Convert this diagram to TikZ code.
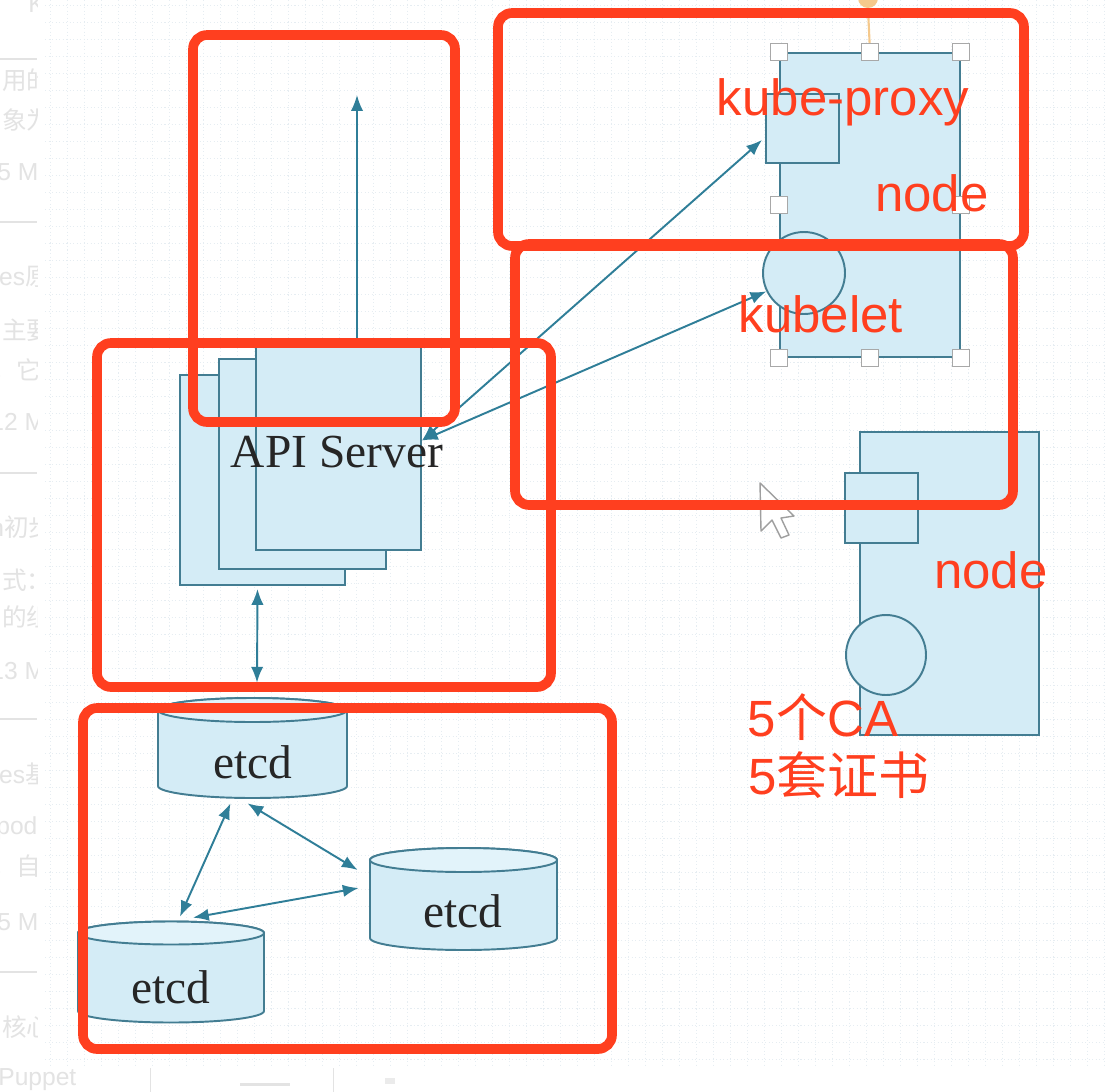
\documentclass[tikz,border=0pt]{standalone}
\usepackage{fontspec}
\newfontfamily\redfont{Liberation Sans}
\newfontfamily\diagserif{Liberation Serif}
\newfontfamily\cjk{Noto Sans CJK SC}
\usetikzlibrary{arrows.meta,calc,fit}
\definecolor{boxfill}{HTML}{D4ECF6}
\definecolor{topfill}{HTML}{E2F3FA}
\definecolor{boxline}{HTML}{437D92}
\definecolor{arrowc}{HTML}{2F7E98}
\definecolor{redc}{HTML}{FF3F1F}
\definecolor{faint}{HTML}{E3E3E3}
\definecolor{gridc}{HTML}{E6EDF2}
\definecolor{handleline}{HTML}{A8A8A8}
\definecolor{orangec}{HTML}{F5C98C}
\tikzset{
 box/.style={draw=boxline, fill=boxfill, line width=1.1pt, inner sep=0pt},
 conn/.style={arrowc, line width=1.1pt, {Latex[length=9pt,width=7pt]}-{Latex[length=9pt,width=7pt]}},
 oneway/.style={arrowc, line width=1.1pt, -{Latex[length=9pt,width=7pt]}},
 redbox/.style={draw=redc, line width=5.5pt, rounded corners=8pt},
 redlabel/.style={text=redc, font=\redfont\fontsize{29}{34}\selectfont, inner sep=0pt},
 serif/.style={font=\diagserif\fontsize{27}{32}\selectfont, inner sep=0pt, text=black!85},
 handle/.style={draw=handleline, fill=white, line width=0.9pt, minimum size=9.5pt, inner sep=0pt},
 fainttext/.style={text=faint, font=\redfont\fontsize{14}{17}\selectfont, anchor=west, inner sep=0pt},
 gridline/.style={gridc, line width=0.5pt, dash pattern=on 0.6pt off 1.4pt},
 cursorstyle/.style={draw=gray!75, fill=white, line width=0.8pt, line join=round},
}
% L R T B r : cylinder with top ellipse centre y=T, bottom arc centre y=B
\newcommand{\drawcyl}[5]{%
 \pgfmathsetmacro\cylC{(#1+#2)/2}\pgfmathsetmacro\cylA{(#2-#1)/2}%
 \pgfmathsetmacro\cylK{0.5523*\cylA}\pgfmathsetmacro\cylR{0.5523*#5}%
 \filldraw[fill=boxfill, draw=boxline, line width=1.1pt]
  ({#1},{#3}) -- ({#1},{#4})
  .. controls ({#1},{#4+\cylR}) and ({\cylC-\cylK},{#4+#5}) .. ({\cylC},{#4+#5})
  .. controls ({\cylC+\cylK},{#4+#5}) and ({#2},{#4+\cylR}) .. ({#2},{#4})
  -- ({#2},{#3})
  .. controls ({#2},{#3-\cylR}) and ({\cylC+\cylK},{#3-#5}) .. ({\cylC},{#3-#5})
  .. controls ({\cylC-\cylK},{#3-#5}) and ({#1},{#3-\cylR}) .. ({#1},{#3}) -- cycle;
 \filldraw[fill=topfill, draw=boxline, line width=1.1pt]
  ({#1},{#3})
  .. controls ({#1},{#3-\cylR}) and ({\cylC-\cylK},{#3-#5}) .. ({\cylC},{#3-#5})
  .. controls ({\cylC+\cylK},{#3-#5}) and ({#2},{#3-\cylR}) .. ({#2},{#3})
  .. controls ({#2},{#3+\cylR}) and ({\cylC+\cylK},{#3+#5}) .. ({\cylC},{#3+#5})
  .. controls ({\cylC-\cylK},{#3+#5}) and ({#1},{#3+\cylR}) .. ({#1},{#3}) -- cycle;
}
\begin{document}
\begin{tikzpicture}[x=0.02cm,y=-0.02cm]
\useasboundingbox (0,0) rectangle (1106,1092);
\clip (0,0) rectangle (1106,1092);
\fill[white] (0,0) rectangle (1106,1092);
% faint grid of the editor canvas
\foreach \g in {50,67,...,1106} \draw[gridline] (\g,0) -- (\g,1066);
\foreach \g in {5,22,...,1066} \draw[gridline] (45,\g) -- (1106,\g);
\draw[faint, line width=0.5pt] (150,1068) -- (150,1092);
\draw[faint, line width=0.5pt] (333,1068) -- (333,1092);
\fill[faint] (240,1083) rectangle (290,1086);
\fill[faint!70] (385,1078) rectangle (395,1084);
% faint side panel text (cut by the canvas)
\begin{scope}
\clip (0,0) rectangle (37,1066);
\node[fainttext] (f1) at (28,4) {K};
\node[fainttext] (f2) at (2,80) {\cjk 用的};
\node[fainttext] (f3) at (2,120) {\cjk 象为};
\node[fainttext] (f4) at (-3,172) {5 MB};
\node[fainttext] (f5) at (-8,277) {tes\cjk 原};
\node[fainttext] (f6) at (2,330) {\cjk 主要};
\node[fainttext] (f7) at (-8,370) {\cjk ，它};
\node[fainttext] (f8) at (-10,422) {12 MB};
\node[fainttext] (f9) at (-10,527) {n\cjk 初步};
\node[fainttext] (f10) at (2,580) {\cjk 式：};
\node[fainttext] (f11) at (2,617) {\cjk 的组};
\node[fainttext] (f12) at (-10,671) {13 MB};
\node[fainttext] (f13) at (-8,774) {tes\cjk 基};
\node[fainttext] (f14) at (-4,828) {pod\cjk ：};
\node[fainttext] (f15) at (-8,866) {\cjk ，自};
\node[fainttext] (f16) at (-3,922) {5 MB};
\node[fainttext] (f17) at (2,1027) {\cjk 核心};
\draw[faint, line width=0.6pt] (0,59) -- (37,59);
\draw[faint, line width=0.6pt] (0,222) -- (37,222);
\draw[faint, line width=0.6pt] (0,473) -- (37,473);
\draw[faint, line width=0.6pt] (0,719) -- (37,719);
\draw[faint, line width=0.6pt] (0,972) -- (37,972);
\end{scope}
\node[fainttext] (f18) at (-2,1080) {Puppet};

% API server stack
\node[box, fit={(180,375) (345,585)}] (api3) {};
\node[box, fit={(219,359) (386,569)}] (api2) {};
\node[box, fit={(256,343) (421,550)}] (api1) {};
\node[serif] (apitext) at (337,452) {API Server};
\coordinate (uptip) at (357,95);
\draw[oneway] ($(api1.north)+(18.5,0)$) -- (uptip);

% node 1 (selected)
\node[box, fit={(780,53) (960,357)}] (node1) {};
\node[box, fit={(766,94) (839,163)}] (kproxy) {};
\node[box, circle, minimum size=1.64cm] (kubelet) at (804,273) {};
\node[circle, fill=orangec, minimum size=0.4cm, inner sep=0pt] (rot) at (868,-2) {};
\draw[orangec, line width=1.2pt] (node1.north) -- (rot.south);
\node[handle] (h1) at (node1.north west) {};
\node[handle] (h2) at (node1.north) {};
\node[handle] (h3) at (node1.north east) {};
\node[handle] (h4) at (node1.west) {};
\node[handle] (h5) at (node1.east) {};
\node[handle] (h6) at (node1.south west) {};
\node[handle] (h7) at (node1.south) {};
\node[handle] (h8) at (node1.south east) {};

% node 2
\node[box, fit={(860,432) (1039,735)}] (node2) {};
\node[box, fit={(845,473) (918,543)}] (kproxy2) {};
\node[box, circle, minimum size=1.6cm] (kubelet2) at (886,655) {};

% API server to node components
\coordinate (apiport) at ($(api1.east)+(0,-6)$);
\draw[conn] (apiport) -- ($(kproxy.west)+(-3,11.5)$);
\draw[conn] (apiport) -- (kubelet.206);

% etcd cylinders
\drawcyl{158}{347}{710}{786}{12}
\node[fit={(158,698) (347,798)}, inner sep=0pt] (etcd1) {};
\node[serif] (etcd1t) at (253,762) {etcd};
\drawcyl{370}{557}{860}{938}{12}
\node[fit={(370,848) (557,950)}, inner sep=0pt] (etcd2) {};
\node[serif] (etcd2t) at (463,911) {etcd};
\drawcyl{78}{264}{933}{1011}{11.5}
\node[fit={(78,922) (264,1022)}, inner sep=0pt] (etcd3) {};
\node[serif] (etcd3t) at (171,987) {etcd};

% etcd connectors
\draw[conn] ($(api3.south)+(-5,3)$) -- ($(etcd1.north)+(4.5,-15)$);
\draw[conn] ($(etcd1.south)+(-22,5)$) -- ($(etcd3.north)+(9,-5)$);
\draw[conn] ($(etcd1.south)+(-5,5)$) -- ($(etcd2.west)+(-12,-29)$);
\draw[conn] ($(etcd3.north)+(22,-4)$) -- ($(etcd2.west)+(-11,-11)$);

% mouse cursor
\draw[cursorstyle] (760,483) -- (761,531) -- (772,520) -- (781,538) -- (789,535) -- (781,518) -- (794,516) -- cycle;

% red annotation boxes
\draw[redbox] (193,35) rectangle (455,422);
\draw[redbox] (498,13) rectangle (1024,246);
\draw[redbox] (515,244) rectangle (1013,505);
\draw[redbox] (97,343) rectangle (551,687);
\draw[redbox] (83,708) rectangle (612,1049);

% red labels
\node[redlabel] (lkp) at (843,102) {kube-proxy};
\node[redlabel] (lnode1) at (932,193) {node};
\node[redlabel] (lkubelet) at (821,314) {kubelet};
\node[redlabel] (lnode2) at (991,570) {node};
\node[redlabel] (lca) at (823,717) {5{\cjk 个}CA};
\node[redlabel] (lcert) at (839,775) {5{\cjk 套证书}};
\end{tikzpicture}
\end{document}
